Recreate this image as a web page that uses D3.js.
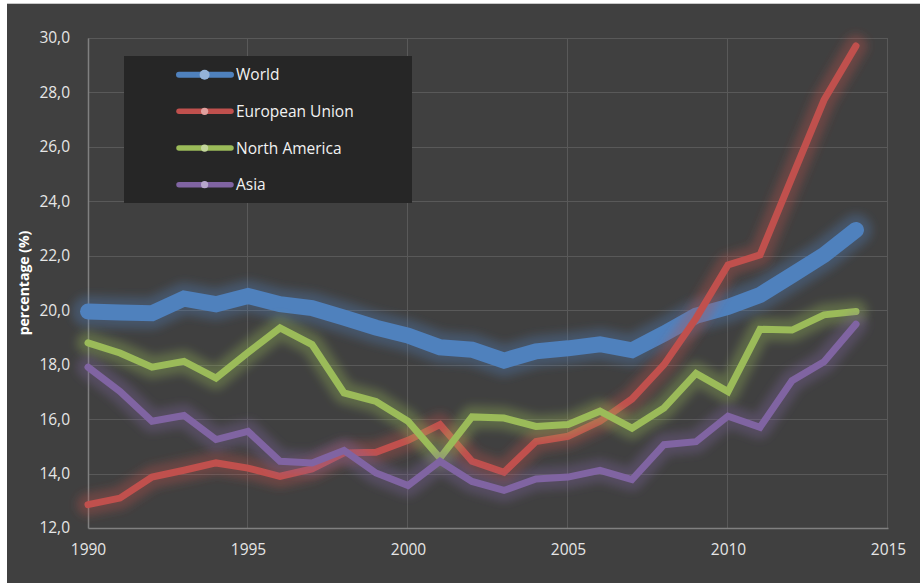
<!DOCTYPE html>
<html>
<head>
<meta charset="utf-8">
<script src="https://cdn.jsdelivr.net/npm/d3@7"></script>
<style>
  html, body { margin: 0; padding: 0; background: #ffffff; }
  svg { display: block; }
</style>
</head>
<body>
<svg id="chart" width="920" height="583"></svg>
<script>
// Share of population (%) by region, 1990–2014
const years = d3.range(1990, 2015);
const seriesNames = ["World", "European Union", "North America", "Asia"];
const world = [19.95, 19.92, 19.89, 20.43, 20.22, 20.52, 20.22, 20.08, 19.73, 19.36, 19.07, 18.64, 18.55, 18.15, 18.49, 18.60, 18.75, 18.53, 19.14, 19.80, 20.12, 20.56, 21.29, 22.03, 22.95];
const europeanUnion = [12.86, 13.10, 13.87, 14.12, 14.39, 14.20, 13.90, 14.17, 14.76, 14.78, 15.22, 15.80, 14.45, 14.05, 15.18, 15.37, 15.92, 16.74, 18.00, 19.70, 21.66, 22.03, 24.88, 27.72, 29.71];
const northAmerica = [18.80, 18.43, 17.91, 18.12, 17.51, 18.45, 19.35, 18.74, 16.96, 16.65, 15.92, 14.57, 16.08, 16.04, 15.73, 15.80, 16.29, 15.67, 16.41, 17.68, 17.01, 19.30, 19.27, 19.83, 19.95];
const asia = [17.91, 17.02, 15.92, 16.13, 15.25, 15.55, 14.45, 14.39, 14.85, 14.02, 13.56, 14.45, 13.71, 13.38, 13.80, 13.87, 14.12, 13.78, 15.06, 15.17, 16.11, 15.70, 17.41, 18.11, 19.49];
const xTicks = [1990, 1995, 2000, 2005, 2010, 2015];
const yTicks = [12, 14, 16, 18, 20, 22, 24, 26, 28, 30];
const yTitle = "percentage (%)";

const seriesValues = [world, europeanUnion, northAmerica, asia];
const lineColors = ["#4f81bd", "#c0504d", "#9bbb59", "#8064a2"];
const markerColors = ["#95b3d7", "#e0a09e", "#c3d69b", "#b7a6cc"];
const lineWidths = [16, 7, 7, 7];

const svg = d3.select("#chart");

// chart background
svg.append("rect").attr("x", 7).attr("y", 3).attr("width", 913).attr("height", 580)
  .attr("fill", "#404040");
svg.append("line").attr("x1", 7).attr("x2", 920).attr("y1", 3.5).attr("y2", 3.5)
  .attr("stroke", "#c8c8c8").attr("stroke-width", 1);

const x = d3.scaleLinear().domain([1990, 2015]).range([88, 888]);
const y = d3.scaleLinear().domain([12, 30]).range([528, 38]);

const defs = svg.append("defs");
defs.append("filter").attr("id", "glow")
  .attr("x", "-10%").attr("y", "-20%").attr("width", "120%").attr("height", "140%")
  .append("feGaussianBlur").attr("stdDeviation", 4.5);

// gridlines
const grid = svg.append("g");
grid.selectAll(".hg").data(yTicks.slice(1)).join("line")
  .attr("x1", x(1990)).attr("x2", x(2015))
  .attr("y1", d => Math.round(y(d)) + 0.5).attr("y2", d => Math.round(y(d)) + 0.5)
  .attr("stroke", "#595959").attr("stroke-width", 1);
grid.selectAll(".vg").data(xTicks.slice(1)).join("line")
  .attr("x1", d => Math.round(x(d)) - 0.5).attr("x2", d => Math.round(x(d)) - 0.5)
  .attr("y1", y(30)).attr("y2", y(12))
  .attr("stroke", "#595959").attr("stroke-width", 1);

// axes
const yAxis = svg.append("g").attr("transform", `translate(${x(1990)},0)`)
  .call(d3.axisLeft(y).tickValues(yTicks).tickSize(0).tickPadding(18)
    .tickFormat(d => d3.format(".1f")(d).replace(".", ",")));
const xAxis = svg.append("g").attr("transform", `translate(0,${y(12)})`)
  .call(d3.axisBottom(x).tickValues(xTicks).tickSize(0).tickPadding(16).tickFormat(d3.format("d")));
[yAxis, xAxis].forEach(a => {
  a.select(".domain").attr("stroke", "#808080").attr("stroke-width", 1.5);
  a.selectAll("text").attr("fill", "#e6e6e6")
    .style("font-family", "'Open Sans', 'Noto Sans', sans-serif").style("font-size", "15.5px");
});

svg.append("text")
  .attr("transform", `translate(29,${(y(12) + y(30)) / 2}) rotate(-90)`)
  .attr("text-anchor", "middle")
  .attr("fill", "#ffffff")
  .style("font-family", "'Open Sans', 'Noto Sans', sans-serif")
  .style("font-size", "14px").style("font-weight", "bold")
  .text(yTitle);

// series lines with glow
const line = d3.line().x((d, i) => x(years[i])).y(d => y(d));
const plot = svg.append("g");
seriesValues.forEach((vals, k) => {
  plot.append("path").attr("d", line(vals))
    .attr("fill", "none").attr("stroke", lineColors[k])
    .attr("stroke-width", lineWidths[k] + 16).attr("stroke-opacity", 0.33)
    .attr("stroke-linejoin", "round").attr("stroke-linecap", "round")
    .attr("filter", "url(#glow)");
  plot.append("path").attr("d", line(vals))
    .attr("fill", "none").attr("stroke", lineColors[k])
    .attr("stroke-width", lineWidths[k])
    .attr("stroke-linejoin", "miter").attr("stroke-linecap", "round");
});

// legend
const legend = svg.append("g");
legend.append("rect").attr("x", 124).attr("y", 56).attr("width", 288).attr("height", 147)
  .attr("fill", "#262626");
const rowY = d3.scalePoint().domain(seriesNames).range([74.7, 184.7]);
seriesNames.forEach((name, k) => {
  const yy = rowY(name);
  legend.append("line").attr("x1", 179).attr("x2", 231).attr("y1", yy).attr("y2", yy)
    .attr("stroke", lineColors[k]).attr("stroke-width", k === 0 ? 6 : 5.5)
    .attr("stroke-linecap", "round");
  legend.append("circle").attr("cx", 204.6).attr("cy", yy).attr("r", k === 0 ? 5 : 3.6)
    .attr("fill", markerColors[k]);
  legend.append("text").attr("x", 236).attr("y", yy).attr("dy", "0.36em")
    .attr("fill", "#f2f2f2")
    .style("font-family", "'Open Sans', 'Noto Sans', sans-serif").style("font-size", "15.5px")
    .text(name);
});
</script>
</body>
</html>
